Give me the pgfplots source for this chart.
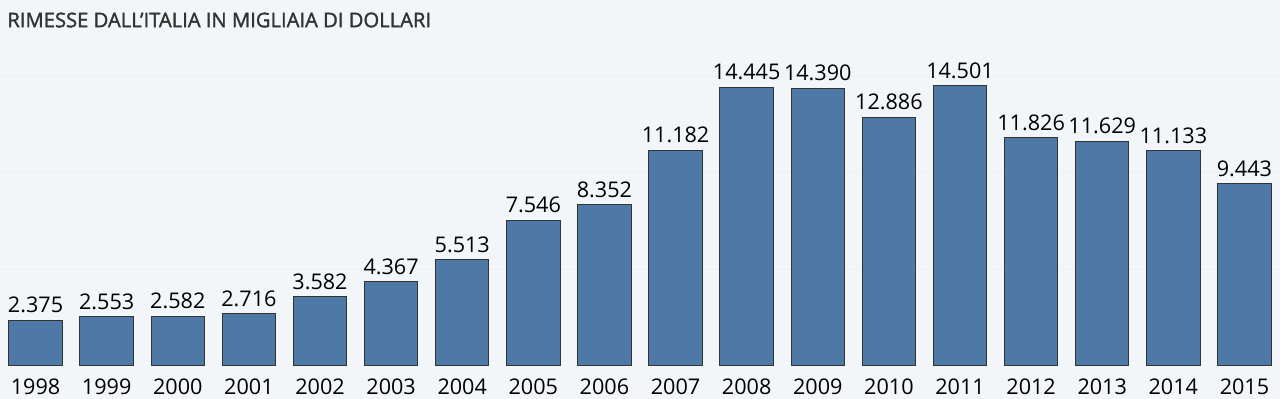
\documentclass[border=0pt]{standalone}
\usepackage{pgfplots}
\pgfplotsset{compat=1.18}
\usepackage{fontspec}
\setmainfont{Open Sans}
\newfontfamily\semib{Open Sans}[FakeBold=1.6]
\definecolor{bgcol}{HTML}{F3F6F8}
\definecolor{barcol}{HTML}{4E79A7}
\definecolor{gridcol}{HTML}{EDF0F2}
\definecolor{titlecol}{HTML}{333333}
\begin{document}
\begin{tikzpicture}
\fill[bgcol] (0,0) rectangle (640pt,199.5pt);
\useasboundingbox (0,0) rectangle (640pt,199.5pt);
\node[anchor=west, text=titlecol, font=\semib\fontsize{10.1}{11}\selectfont, inner sep=0pt] at (3.5pt,189.5pt) {RIMESSE DALL’ITALIA IN MIGLIAIA DI DOLLARI};
\begin{axis}[
  at={(0pt,16.5pt)}, anchor=south west,
  scale only axis, width=640pt, height=158.35pt,
  xmin=-0.5, xmax=17.5, ymin=0, ymax=16400,
  axis line style={draw=none},
  tick style={draw=none},
  scaled y ticks=false,
  xtick={0,...,17},
  xticklabels={1998,1999,2000,2001,2002,2003,2004,2005,2006,2007,2008,2009,2010,2011,2012,2013,2014,2015},
  x tick label style={font=\fontsize{10.8}{12}\selectfont, text=black, yshift=1.5pt},
  ytick={5000,10000,15000}, yticklabels={},
  ymajorgrids, grid style={gridcol, line width=0.4pt},
  ybar, bar width=26.75pt,
  nodes near coords,
  nodes near coords style={font=\fontsize{10.8}{12}\selectfont, text=black, anchor=south, yshift=0pt,
    /pgf/number format/.cd, fixed, 1000 sep={.}, assume math mode=true},
]
\addplot[fill=barcol, draw=black!80, line width=0.5pt] coordinates {
(0,2375) (1,2553) (2,2582) (3,2716) (4,3582) (5,4367) (6,5513) (7,7546) (8,8352)
(9,11182) (10,14445) (11,14390) (12,12886) (13,14501) (14,11826) (15,11629) (16,11133) (17,9443)
};
\end{axis}
\end{tikzpicture}
\end{document}
